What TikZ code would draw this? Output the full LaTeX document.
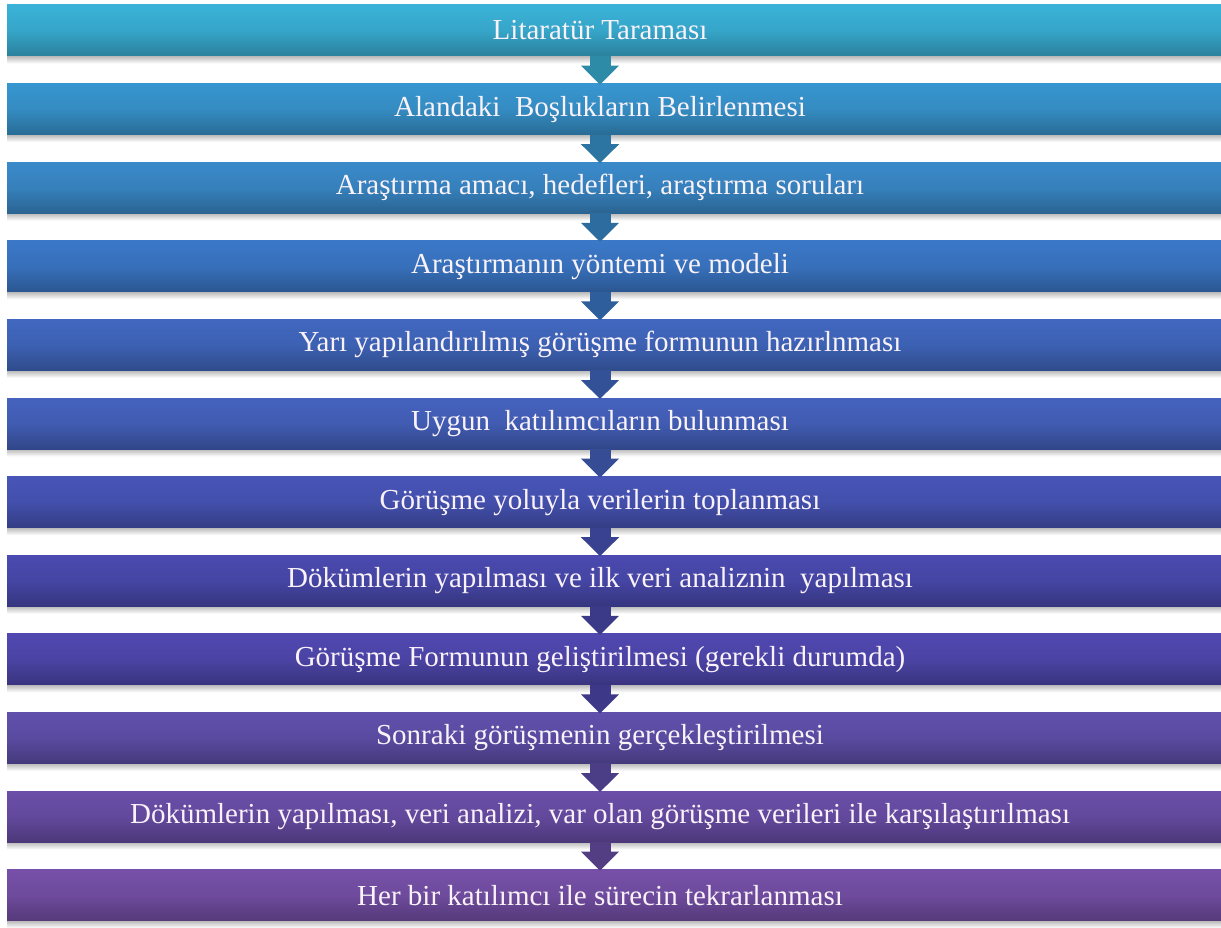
\documentclass[tikz,border=0pt]{standalone}
\usepackage{fontspec}
\setmainfont{Liberation Serif}
\usetikzlibrary{arrows.meta}
\definecolor{c1}{HTML}{3AB2D8}
\definecolor{c2}{HTML}{3896D0}
\definecolor{c3}{HTML}{3A8ACA}
\definecolor{c4}{HTML}{3B78C8}
\definecolor{c5}{HTML}{4168C0}
\definecolor{c6}{HTML}{4562BE}
\definecolor{c7}{HTML}{4855B8}
\definecolor{c8}{HTML}{4A4AB0}
\definecolor{c9}{HTML}{5048B0}
\definecolor{c10}{HTML}{6050AC}
\definecolor{c11}{HTML}{6A4EA8}
\definecolor{c12}{HTML}{7650A8}
\tikzset{
  barbox/.style={draw=none, minimum width=1214pt, minimum height=51pt, inner sep=0pt, outer sep=0pt,
    top color=#1, bottom color=#1!72!black, middle color=#1!93!black},
  bartext/.style={text=white!95!violet, font=\fontsize{29}{34}\selectfont, inner sep=0pt},
  flowarrow/.style={line width=21pt, draw=#1!78!black, -{Triangle[width=37pt,length=19pt]}, shorten >=-1pt},
  barshadow/.style={top color=black!28, bottom color=white, draw=none}
}
\begin{document}
\begin{tikzpicture}[x=1pt,y=-1pt]
\useasboundingbox[fill=white] (0,0) rectangle (1221,928);
\foreach \i/\t in {
 1/{Litaratür Taraması},
 2/{Alandaki\ \ Boşlukların Belirlenmesi},
 3/{Araştırma amacı, hedefleri, araştırma soruları},
 4/{Araştırmanın yöntemi ve modeli},
 5/{Yarı yapılandırılmış görüşme formunun hazırlnması},
 6/{Uygun\ \ katılımcıların bulunması},
 7/{Görüşme yoluyla verilerin toplanması},
 8/{Dökümlerin yapılması ve ilk veri analiznin\ \ yapılması},
 9/{Görüşme Formunun geliştirilmesi (gerekli durumda)},
 10/{Sonraki görüşmenin gerçekleştirilmesi},
 11/{Dökümlerin yapılması, veri analizi, var olan görüşme verileri ile karşılaştırılması},
 12/{Her bir katılımcı ile sürecin tekrarlanması}}{
  \pgfmathsetmacro{\yc}{5+78.6*(\i-1)+25.5}
  \shade[barshadow] (7,\yc+25.5) rectangle (1221,\yc+33);
  \node[barbox=c\i] (b\i) at (614,\yc) {};
  \node[bartext] (t\i) at (600,\yc) {\t};
}
\foreach \i [evaluate=\i as \j using int(\i+1)] in {1,...,11}{
  \draw[flowarrow=c\i] (b\i.south -| t\i.center) -- (b\j.north -| t\i.center);
}
\end{tikzpicture}
\end{document}
